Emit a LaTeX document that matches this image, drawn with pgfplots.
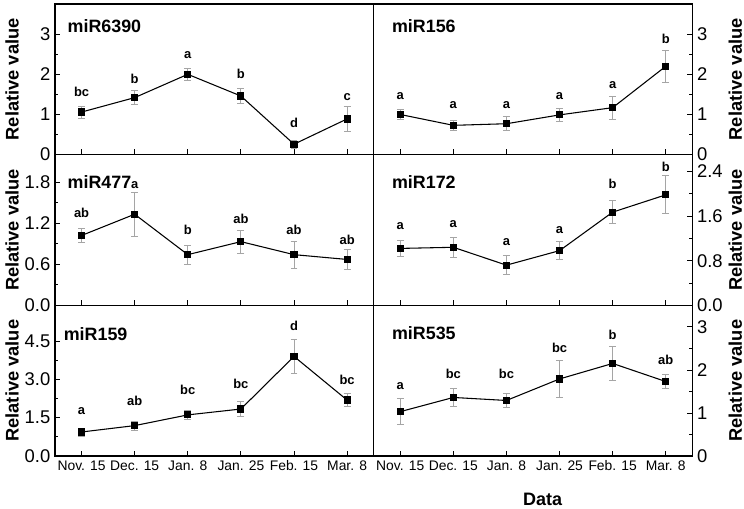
\documentclass[border=0pt]{standalone}
\usepackage{fontspec}
\setmainfont{Liberation Sans}
\usepackage{pgfplots}
\pgfplotsset{compat=1.18}
\definecolor{errgray}{RGB}{165,165,165}

\tikzset{
 lett/.style={font=\bfseries\fontsize{9.7}{10}\selectfont},
 ttl/.style={anchor=west, font=\bfseries\fontsize{13.4}{14}\selectfont},
}
\pgfplotsset{
 panel/.style={
  scale only axis, width=239pt, height=113pt,
  xmin=0.5, xmax=6.5, xtick={1,2,3,4,5,6}, xticklabels={},
  xtick pos=left,
  tick align=inside,
  minor y tick num=1,
  major tick length=4pt, minor tick length=2.5pt,
  tick style={black, line width=0.6pt},
  axis line style={line width=0.8pt},
  /pgf/number format/assume math mode=true,
  yticklabel style={font=\fontsize{13.8}{14}\selectfont, inner ysep=0pt},
  xticklabel style={font=\fontsize{10.4}{12}\selectfont},
  ylabel={Relative value},
  ylabel style={font=\bfseries\fontsize{13.7}{14}\selectfont},
 },
 leftpanel/.style={panel, ytick pos=left,
  ylabel style={at={(axis description cs:-0.135,0.5)}, anchor=center}},
 rightpanel/.style={panel, ytick pos=right, yticklabel pos=right,
  ylabel style={at={(axis description cs:1.135,0.5)}, anchor=center}},
 dec1/.style={yticklabel style={/pgf/number format/.cd, fixed, fixed zerofill, precision=1}},
 series/.style={black, line width=0.8pt, mark=square*, mark size=2.3pt,
  mark options={solid, black},
  error bars/.cd, y dir=both, y explicit,
  error bar style={errgray, line width=0.6pt},
  error mark options={errgray, mark size=2.6pt, rotate=90, line width=0.6pt}},
}

\begin{document}
\begin{tikzpicture}
% ---------- top left: miR6390
\begin{axis}[leftpanel, at={(41.25pt,265pt)}, anchor=south west,
  ymin=0, ymax=3.75, ytick={0,1,2,3}]
\addplot[series] table[x=x, y=y, y error=e] {
x y e
1 1.06 0.15
2 1.42 0.17
3 2.00 0.15
4 1.46 0.19
5 0.26 0.10
6 0.89 0.32
};
\node[ttl] at (rel axis cs:0.025,0.85) {miR6390};
\node[lett] at (axis cs:1,1.57) {bc};
\node[lett] at (axis cs:2,1.89) {b};
\node[lett] at (axis cs:3,2.47) {a};
\node[lett] at (axis cs:4,2.01) {b};
\node[lett] at (axis cs:5,0.79) {d};
\node[lett] at (axis cs:6,1.44) {c};
\end{axis}
% ---------- top right: miR156
\begin{axis}[rightpanel, at={(280.25pt,265pt)}, anchor=south west,
  ymin=0, ymax=3.75, ytick={0,1,2,3}]
\addplot[series] table[x=x, y=y, y error=e] {
x y e
1 1.00 0.13
2 0.73 0.12
3 0.77 0.17
4 0.99 0.15
5 1.17 0.29
6 2.20 0.39
};
\node[ttl] at (rel axis cs:0.043,0.85) {miR156};
\node[lett] at (axis cs:1,1.47) {a};
\node[lett] at (axis cs:2,1.23) {a};
\node[lett] at (axis cs:3,1.23) {a};
\node[lett] at (axis cs:4,1.46) {a};
\node[lett] at (axis cs:5,1.73) {a};
\node[lett] at (axis cs:6,2.87) {b};
\end{axis}
% ---------- middle left: miR477
\begin{axis}[leftpanel, dec1, at={(41.25pt,152pt)}, anchor=south west,
  ymin=0, ymax=2.2, ytick={0,0.6,1.2,1.8}]
\addplot[series] table[x=x, y=y, y error=e] {
x y e
1 1.02 0.105
2 1.33 0.32
3 0.74 0.14
4 0.93 0.17
5 0.74 0.20
6 0.67 0.14
};
\node[ttl] at (rel axis cs:0.025,0.82) {miR477};
\node[lett] at (axis cs:1,1.35) {ab};
\node[lett] at (axis cs:2,1.75) {a};
\node[lett] at (axis cs:3,1.10) {b};
\node[lett] at (axis cs:4,1.26) {ab};
\node[lett] at (axis cs:5,1.10) {ab};
\node[lett] at (axis cs:6,0.95) {ab};
\end{axis}
% ---------- middle right: miR172
\begin{axis}[rightpanel, dec1, at={(280.25pt,152pt)}, anchor=south west,
  ymin=0, ymax=2.7, ytick={0,0.8,1.6,2.4}]
\addplot[series] table[x=x, y=y, y error=e] {
x y e
1 1.02 0.14
2 1.04 0.18
3 0.72 0.17
4 0.98 0.16
5 1.67 0.21
6 1.98 0.34
};
\node[ttl] at (rel axis cs:0.043,0.82) {miR172};
\node[lett] at (axis cs:1,1.42) {a};
\node[lett] at (axis cs:2,1.46) {a};
\node[lett] at (axis cs:3,1.13) {a};
\node[lett] at (axis cs:4,1.34) {a};
\node[lett] at (axis cs:5,2.18) {b};
\node[lett] at (axis cs:6,2.49) {b};
\end{axis}
% ---------- bottom left: miR159
\begin{axis}[leftpanel, dec1, at={(41.25pt,39pt)}, anchor=south west,
  ymin=0, ymax=5.9, ytick={0,1.5,3,4.5},
  xticklabels={Nov. 15, Dec. 15, Jan. 8, Jan. 25, Feb. 15, Mar. 8}]
\addplot[series] table[x=x, y=y, y error=e] {
x y e
1 0.94 0.16
2 1.19 0.18
3 1.61 0.19
4 1.84 0.28
5 3.90 0.66
6 2.19 0.25
};
\node[ttl] at (rel axis cs:0.013,0.81) {miR159};
\node[lett] at (axis cs:1,1.75) {a};
\node[lett] at (axis cs:2,2.16) {ab};
\node[lett] at (axis cs:3,2.58) {bc};
\node[lett] at (axis cs:4,2.81) {bc};
\node[lett] at (axis cs:5,5.10) {d};
\node[lett] at (axis cs:6,3.00) {bc};
\end{axis}
% ---------- bottom right: miR535
\begin{axis}[rightpanel, at={(280.25pt,39pt)}, anchor=south west,
  ymin=0, ymax=3.5, ytick={0,1,2,3},
  xticklabels={Nov. 15, Dec. 15, Jan. 8, Jan. 25, Feb. 15, Mar. 8},
  xlabel={Data},
  xlabel style={at={(axis description cs:0.53,-0.29)}, anchor=center,
    font=\bfseries\fontsize{13.5}{14}\selectfont}]
\addplot[series] table[x=x, y=y, y error=e] {
x y e
1 1.03 0.30
2 1.36 0.20
3 1.29 0.17
4 1.79 0.44
5 2.15 0.40
6 1.73 0.17
};
\node[ttl] at (rel axis cs:0.043,0.815) {miR535};
\node[lett] at (axis cs:1,1.63) {a};
\node[lett] at (axis cs:2,1.91) {bc};
\node[lett] at (axis cs:3,1.90) {bc};
\node[lett] at (axis cs:4,2.51) {bc};
\node[lett] at (axis cs:5,2.82) {b};
\node[lett] at (axis cs:6,2.23) {ab};
\end{axis}
\pgfresetboundingbox
\useasboundingbox (0,0) rectangle (558pt,381pt);
\end{tikzpicture}
\end{document}
